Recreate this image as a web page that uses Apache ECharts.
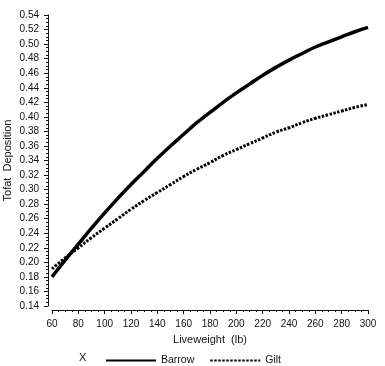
<!DOCTYPE html>
<html><head><meta charset="utf-8">
<script src="https://cdn.jsdelivr.net/npm/echarts@6/dist/echarts.min.js"></script>
<style>html,body{margin:0;padding:0;background:#fff}#c{width:385px;height:366px}</style>
</head><body><div id="c"></div>
<script>
const liveweight = [60,70,80,90,100,110,120,130,140,150,160,170,180,190,200,210,220,230,240,250,260,270,280,290,300];
const barrow = [0.180,0.203,0.225,0.247,0.268,0.288,0.307,0.325,0.343,0.360,0.376,0.392,0.406,0.420,0.433,0.445,0.457,0.468,0.478,0.487,0.496,0.503,0.510,0.517,0.523];
const gilt = [0.191,0.206,0.220,0.234,0.247,0.260,0.273,0.285,0.296,0.307,0.318,0.328,0.337,0.347,0.355,0.363,0.371,0.379,0.385,0.392,0.398,0.403,0.408,0.413,0.417];
const seriesNames = ['Barrow','Gilt'];
const xTitle = 'Liveweight  (lb)';
const yTitle = 'Tofat  Deposition';
const legendLead = 'X';

const font = 'Liberation Sans, Arial, sans-serif';
const chart = echarts.init(document.getElementById('c'), null, {renderer:'canvas'});
chart.setOption({
  backgroundColor:'#fff',
  animation:false,
  color:['#000','#000'],
  grid:{left:52,right:17,top:15,bottom:60,containLabel:false,outerBoundsMode:'none'},
  xAxis:{type:'value',min:60,max:300,interval:20,offset:4,
    name:xTitle,nameLocation:'middle',nameGap:24,nameMoveOverlap:false,
    nameTextStyle:{fontFamily:font,fontSize:11,color:'#111'},
    axisLine:{lineStyle:{color:'#111',width:1}},
    axisTick:{length:4,lineStyle:{color:'#111'}},
    minorTick:{show:true,splitNumber:4,length:2,lineStyle:{color:'#111'}},
    axisLabel:{fontFamily:font,fontSize:10,color:'#111',margin:9},
    splitLine:{show:false}},
  yAxis:{type:'value',min:0.14,max:0.54,interval:0.02,offset:4,
    name:yTitle,nameLocation:'middle',nameGap:35,nameMoveOverlap:false,
    nameTextStyle:{fontFamily:font,fontSize:11,color:'#111'},
    axisLine:{show:true,lineStyle:{color:'#111',width:1}},
    axisTick:{show:true,length:4,lineStyle:{color:'#111'}},
    minorTick:{show:true,splitNumber:4,length:2,lineStyle:{color:'#111'}},
    axisLabel:{fontFamily:font,fontSize:10,color:'#111',margin:9,formatter:v=>v.toFixed(2)},
    splitLine:{show:false}},
  legend:{left:100,top:350,itemWidth:50,itemHeight:10,itemGap:15,
    itemStyle:{opacity:0},
    textStyle:{fontFamily:font,fontSize:10.5,color:'#111'},
    data:seriesNames},
  graphic:[{type:'text',left:79,top:352,style:{text:legendLead,font:'11px '+font,fill:'#111'}}],
  series:[
    {name:seriesNames[0],type:'line',data:liveweight.map((x,i)=>[x,barrow[i]]),smooth:true,showSymbol:false,symbol:'none',
      itemStyle:{color:'#000'},lineStyle:{color:'#000',width:3.5}},
    {name:seriesNames[1],type:'line',data:liveweight.map((x,i)=>[x,gilt[i]]),smooth:true,showSymbol:false,symbol:'none',
      itemStyle:{color:'#000'},lineStyle:{color:'#000',width:3,type:[2.5,1.5],cap:'butt'}}
  ]
});
</script></body></html>
